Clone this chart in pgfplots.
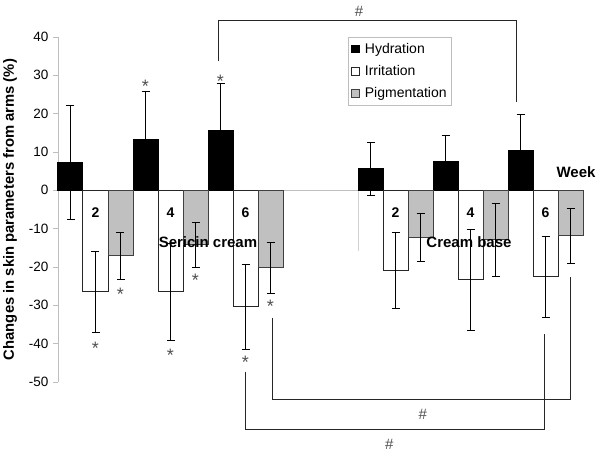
\documentclass[border=0pt]{standalone}
\usepackage{pgfplots}
\usepackage{pgfplotstable}
\usepackage{fontspec}
\setmainfont{Liberation Sans}
\pgfplotsset{compat=1.18}

% slot = bar position (one slot per bar), val = mean change (%), err = SD
\pgfplotstableread{
slot val err
0   7.3  14.8
3  13.2  12.7
6  15.5  12.4
12  5.6   6.9
15  7.6   6.8
18 10.3   9.6
}\hydration
\pgfplotstableread{
slot val err
1  -26.5 10.6
4  -26.5 12.6
7  -30.4 11.0
13 -20.9  9.8
16 -23.3 13.2
19 -22.6 10.6
}\irritation
\pgfplotstableread{
slot val err
2  -17.1 6.2
5  -14.2 5.8
8  -20.2 6.6
14 -12.3 6.2
17 -12.9 9.5
20 -11.8 7.2
}\pigmentation

\definecolor{barGray}{HTML}{C0C0C0}
\definecolor{axGray}{HTML}{BEBEBE}
\definecolor{starGray}{HTML}{505050}

\tikzset{
    wk/.style={font=\fontsize{14}{16}\selectfont\bfseries},
    grp/.style={font=\fontsize{15}{17}\selectfont\bfseries},
    star/.style={starGray, font=\fontsize{18}{18}\selectfont, yshift=-3.6pt},
    hash/.style={starGray, font=\fontsize{15}{17}\selectfont},
    bracket/.style={black!85, line width=0.9pt},
}

\begin{document}
\begin{tikzpicture}
\useasboundingbox (-58pt,-74pt) rectangle (542pt,382pt);
\begin{axis}[
    at={(0,0)}, anchor=south west,
    scale only axis,
    width=525pt, height=345pt,
    xmin=-0.5, xmax=20.5,
    ymin=-50, ymax=40,
    ytick={-50,-40,...,40},
    axis x line=none,
    axis y line*=left,
    y axis line style={axGray, line width=0.8pt},
    ytick style={axGray, line width=0.8pt},
    tick align=outside,
    major tick length=5pt,
    font=\fontsize{13.5}{16}\selectfont,
    /pgf/number format/assume math mode=true,
    yticklabel style={font=\fontsize{13.5}{16}\selectfont, xshift=-1pt},
    ylabel={\bfseries Changes in skin parameters from arms (\%)},
    ylabel style={font=\fontsize{14.8}{17}\selectfont,
        at={(axis description cs:-0.0914,0.5)}, anchor=center},
    clip=false,
    legend style={at={(0.552,1)}, anchor=north west, draw=axGray,
        font=\fontsize{14}{16}\selectfont, row sep=6.5pt,
        inner xsep=3pt, inner ysep=4pt},
    legend cell align=left,
    legend image code/.code={\draw[#1, line width=0.8pt] (0pt,-3.8pt) rectangle (7.5pt,3.8pt);
        \path (11pt,0pt);},
    error bars/y dir=both,
    error bars/y explicit,
    error bars/error bar style={black, line width=0.9pt},
    error bars/error mark options={rotate=90, mark size=4pt, line width=0.9pt, black},
]
% baseline at zero and faint divider
\draw[axGray, line width=0.8pt] (axis cs:-0.5,0) -- (axis cs:20.5,0);
\draw[axGray!70, line width=0.6pt] (axis cs:11.5,0) -- (axis cs:11.5,-15.7);

\addplot[ybar, bar width=25pt, bar shift=0pt, fill=black, draw=black, line width=1pt]
    table[x=slot, y=val, y error=err] {\hydration};
\addlegendentry{Hydration}
\addplot[ybar, bar width=25pt, bar shift=0pt, fill=white, draw=black!85, line width=1pt]
    table[x=slot, y=val, y error=err] {\irritation};
\addlegendentry{Irritation}
\addplot[ybar, bar width=25pt, bar shift=0pt, fill=barGray, draw=black!75, line width=1pt]
    table[x=slot, y=val, y error=err] {\pigmentation};
\addlegendentry{Pigmentation}

% week numbers and group names
\node[wk] at (axis cs:1,-5.7) {2};
\node[wk] at (axis cs:4,-5.7) {4};
\node[wk] at (axis cs:7,-5.7) {6};
\node[wk] at (axis cs:13,-5.7) {2};
\node[wk] at (axis cs:16,-5.7) {4};
\node[wk] at (axis cs:19,-5.7) {6};
\node[grp] at (axis cs:5.5,-13.6) {Sericin cream};
\node[grp] at (axis cs:15.94,-13.6) {Cream base};
\node[grp] at (axis cs:20.22,4.7) {Week};

% significance stars
\node[star] at (axis cs:3,28.2) {*};
\node[star] at (axis cs:6,29.5) {*};
\node[star] at (axis cs:1,-40.2) {*};
\node[star] at (axis cs:2,-26.3) {*};
\node[star] at (axis cs:4,-42) {*};
\node[star] at (axis cs:5,-22.6) {*};
\node[star] at (axis cs:7,-44) {*};
\node[star] at (axis cs:8,-29.2) {*};

% brackets between treatments
\draw[bracket] (axis cs:5.91,33.7) -- (axis cs:5.91,44.4)
    -- (axis cs:17.82,44.4) -- (axis cs:17.82,23);
\node[hash] at (axis cs:11.54,46.6) {\#};
\draw[bracket] (axis cs:8.09,-33.2) -- (axis cs:8.09,-54.6)
    -- (axis cs:19.98,-54.6) -- (axis cs:19.98,-22.6);
\node[hash] at (axis cs:14.09,-58.5) {\#};
\draw[bracket] (axis cs:7.0,-47.3) -- (axis cs:7.0,-62.4)
    -- (axis cs:18.94,-62.4) -- (axis cs:18.94,-37.4);
\node[hash] at (axis cs:12.75,-66.3) {\#};
\end{axis}
\end{tikzpicture}
\end{document}
